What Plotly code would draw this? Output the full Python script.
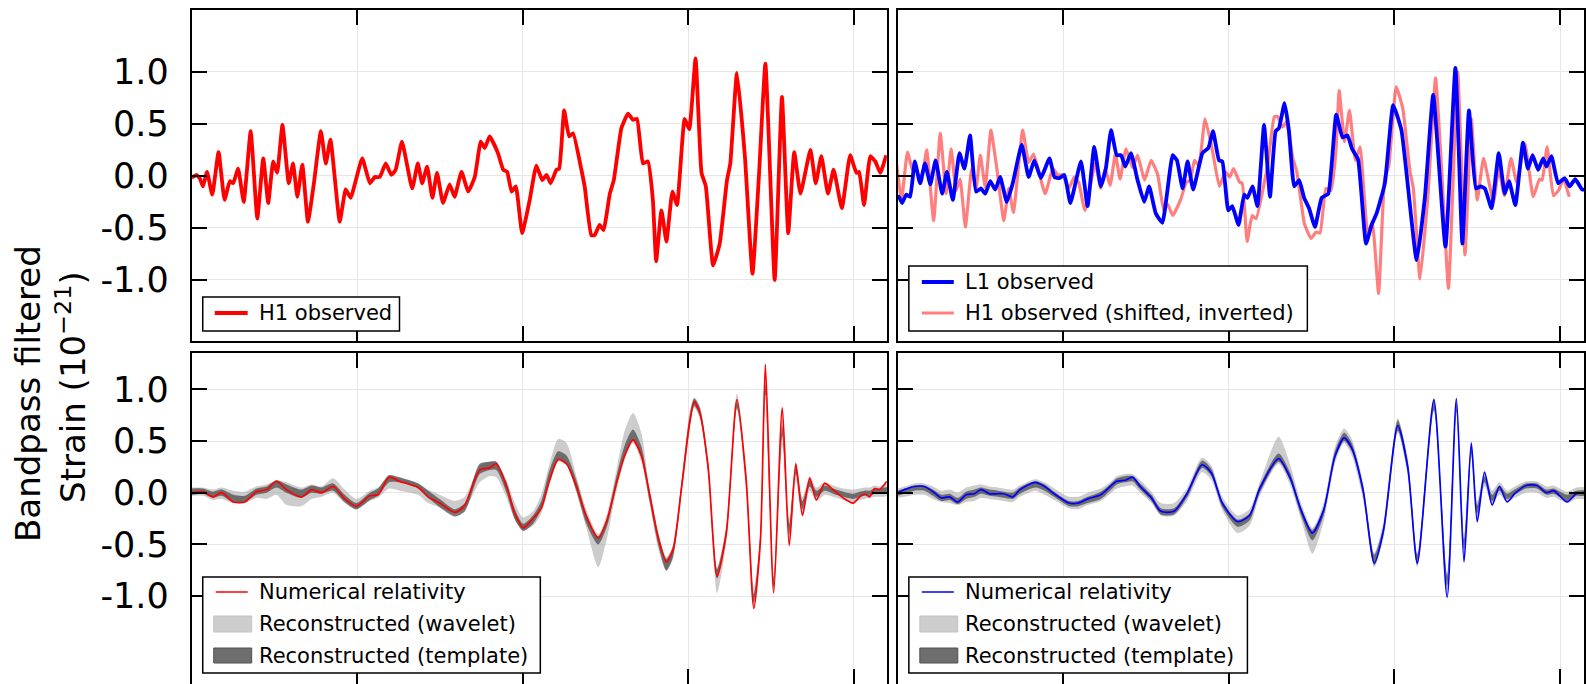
import plotly.graph_objects as go

W, H = 1586, 684

# ---------------- data: time (s) and strain (1e-21) ----------------
x_ticks = [0.30, 0.35, 0.40, 0.45]
y_ticks = [-1.0, -0.5, 0.0, 0.5, 1.0]
y_tick_text = ["-1.0", "-0.5", "0.0", "0.5", "1.0"]

h1_t = [0.2500,0.2504,0.2514,0.2524,0.2534,0.2546,0.2562,0.2581,0.2599,0.2615,
        0.2625,0.2640,0.2657,0.2678,0.2698,0.2716,0.2731,0.2746,0.2758,0.2774,
        0.2793,0.2806,0.2819,0.2834,0.2851,0.2869,0.2890,0.2905,0.2919,0.2947,
        0.2965,0.2980,0.3015,0.3038,0.3053,0.3068,0.3086,0.3103,0.3116,0.3135,
        0.3166,0.3183,0.3196,0.3211,0.3227,0.3241,0.3259,0.3279,0.3294,0.3315,
        0.3335,0.3355,0.3373,0.3385,0.3400,0.3425,0.3441,0.3453,0.3466,0.3479,
        0.3498,0.3521,0.3541,0.3559,0.3572,0.3584,0.3602,0.3610,0.3625,0.3640,
        0.3652,0.3677,0.3687,0.3707,0.3717,0.3732,0.3744,0.3763,0.3775,0.3798,
        0.3818,0.3833,0.3845,0.3863,0.3878,0.3893,0.3903,0.3919,0.3934,0.3952,
        0.3966,0.3989,0.4003,0.4022,0.4040,0.4053,0.4075,0.4095,0.4117,0.4127,
        0.4147,0.4171,0.4194,0.4214,0.4233,0.4261,0.4283,0.4302,0.4320,0.4339,
        0.4369,0.4385,0.4402,0.4422,0.4439,0.4464,0.4489,0.4508,0.4516,0.4531,
        0.4550,0.4565,0.4580,0.4598]
h1_v = [0.00,-0.01,0.01,-0.02,-0.10,0.04,-0.18,0.23,-0.23,-0.05,
        -0.07,0.07,-0.25,0.43,-0.41,0.17,-0.26,0.14,0.03,0.49,
        -0.07,0.12,-0.20,0.11,-0.44,-0.07,0.43,0.12,0.35,-0.44,
        -0.13,-0.21,0.17,-0.07,-0.01,-0.01,0.12,0.01,0.06,0.33,
        -0.12,0.12,-0.07,0.09,-0.21,0.03,-0.26,-0.08,-0.20,0.04,
        -0.15,-0.01,0.33,0.27,0.38,0.22,0.06,0.04,-0.15,-0.10,
        -0.55,-0.23,0.10,-0.04,0.01,-0.07,0.06,0.07,0.63,0.38,
        0.41,0.06,-0.10,-0.57,-0.57,-0.47,-0.52,-0.17,-0.04,0.46,
        0.60,0.54,0.55,0.12,0.14,-0.23,-0.82,-0.33,-0.63,-0.15,
        -0.28,0.55,0.45,1.13,0.03,-0.10,-0.86,-0.65,-0.04,0.12,
        0.99,0.19,-0.94,0.03,1.08,-1.00,0.76,-0.55,0.23,-0.17,
        0.25,-0.07,0.19,-0.17,0.06,-0.31,0.20,0.03,0.04,-0.28,
        0.19,0.14,0.03,0.20]

# H1 shifted (earlier by 7 ms) and inverted, as stated in the legend
H1_SHIFT = 0.007

l1_t = [0.2500,0.2503,0.2513,0.2525,0.2537,0.2551,0.2567,0.2582,0.2598,0.2614,
        0.2634,0.2648,0.2666,0.2686,0.2701,0.2718,0.2736,0.2751,0.2764,0.2779,
        0.2794,0.2809,0.2829,0.2847,0.2874,0.2895,0.2912,0.2932,0.2958,0.2973,
        0.2988,0.3003,0.3021,0.3053,0.3073,0.3093,0.3113,0.3128,0.3144,0.3161,
        0.3174,0.3187,0.3204,0.3224,0.3244,0.3259,0.3279,0.3299,0.3330,0.3343,
        0.3360,0.3375,0.3392,0.3420,0.3438,0.3452,0.3470,0.3480,0.3498,0.3510,
        0.3529,0.3546,0.3556,0.3571,0.3586,0.3606,0.3624,0.3641,0.3651,0.3668,
        0.3681,0.3697,0.3712,0.3727,0.3742,0.3760,0.3780,0.3800,0.3824,0.3843,
        0.3858,0.3872,0.3890,0.3914,0.3931,0.3946,0.3971,0.3996,0.4021,0.4067,
        0.4092,0.4117,0.4154,0.4184,0.4205,0.4225,0.4246,0.4260,0.4273,0.4293,
        0.4315,0.4333,0.4346,0.4365,0.4388,0.4403,0.4417,0.4434,0.4449,0.4459,
        0.4474,0.4494,0.4514,0.4529,0.4546,0.4567,0.4600]
l1_v = [-0.22,-0.20,-0.26,-0.18,-0.20,0.14,-0.07,0.12,-0.08,0.15,
        -0.17,0.04,-0.23,0.22,0.07,0.39,-0.15,-0.12,-0.17,-0.05,
        -0.13,-0.01,-0.25,-0.07,0.30,-0.01,0.15,-0.02,0.17,-0.01,
        -0.02,0.01,-0.26,0.14,-0.29,0.28,-0.10,0.07,0.44,0.20,
        0.20,0.09,0.22,-0.04,-0.25,-0.10,-0.36,-0.45,0.20,0.15,
        -0.12,0.14,-0.13,0.22,0.27,0.43,0.15,0.14,-0.33,-0.29,
        -0.47,-0.18,-0.21,-0.10,-0.29,0.49,-0.20,0.43,0.46,0.70,
        0.44,-0.10,-0.04,-0.21,-0.31,-0.49,-0.21,-0.17,0.59,0.37,
        0.39,0.26,0.16,-0.65,-0.47,-0.36,-0.07,0.68,0.44,-0.81,
        -0.20,0.78,-0.68,1.04,-0.65,0.63,-0.12,-0.10,-0.12,-0.31,
        0.22,-0.17,-0.05,-0.28,0.32,0.07,0.20,0.06,0.17,0.09,
        0.19,-0.07,-0.02,-0.10,-0.03,-0.13,-0.12]

# Numerical relativity (H1) and reconstructions
nr_h1_t = [0.2500,0.2534,0.2564,0.2590,0.2625,0.2660,0.2695,0.2726,0.2756,0.2786,
           0.2831,0.2862,0.2892,0.2927,0.2962,0.2997,0.3038,0.3063,0.3096,0.3128,
           0.3184,0.3214,0.3249,0.3295,0.3325,0.3370,0.3400,0.3420,
           0.3451,0.3476,0.3501,0.3531,0.3556,0.3581,0.3607,0.3632,0.3662,0.3692,
           0.3728,0.3753,0.3783,0.3808,0.3833,0.3858,0.3883,0.3909,0.3934,0.3954,
           0.3979,0.4004,0.4018,0.4035,0.4060,0.4087,0.4115,0.4147,0.4175,0.4198,
           0.4218,0.4233,0.4258,0.4284,0.4305,0.4325,0.4345,0.4367,0.4387,0.4412,
           0.4437,0.4468,0.4498,0.4518,0.4533,0.4548,0.4563,0.4578,0.4600]
nr_h1_v = [0.00,0.01,-0.04,0.00,-0.09,-0.09,0.01,0.03,0.11,0.03,
           -0.04,0.03,0.00,0.06,-0.06,-0.13,-0.03,-0.02,0.15,0.11,
           0.05,-0.04,-0.10,-0.19,-0.12,0.22,0.24,0.28,
           0.06,-0.20,-0.34,-0.25,-0.15,0.12,0.32,0.28,0.06,-0.23,
           -0.44,-0.28,0.09,0.36,0.51,0.36,-0.01,-0.43,-0.67,-0.55,
           0.03,0.67,0.88,0.77,0.25,-0.81,-0.39,0.90,0.12,-1.12,
           -0.46,1.24,-0.97,0.82,-0.51,0.28,-0.22,0.14,-0.07,0.09,
           0.03,-0.05,-0.10,-0.04,-0.01,-0.04,0.04,0.03,0.11]
h1_tmp_lo = [-0.02,-0.01,-0.05,-0.03,-0.09,-0.09,-0.02,0.00,0.05,0.00,
             -0.05,0.00,-0.01,0.02,-0.09,-0.16,-0.07,-0.03,0.10,0.10,
             0.04,-0.05,-0.14,-0.23,-0.18,0.18,0.22,0.22,
             0.00,-0.26,-0.37,-0.30,-0.16,0.12,0.32,0.28,0.02,-0.30,
             -0.50,-0.34,0.06,0.36,0.50,0.34,-0.08,-0.50,-0.75,-0.62,
             0.00,0.64,0.84,0.74,0.20,-0.83,-0.42,0.82,0.08,-1.06,
             -0.48,0.95,-0.92,0.55,-0.40,0.18,-0.16,0.06,-0.04,0.02,
             -0.01,-0.04,-0.06,-0.04,-0.03,-0.03,-0.01,-0.01,0.00]
h1_tmp_hi = [0.04,0.04,0.01,0.03,-0.02,-0.03,0.04,0.06,0.12,0.08,
             0.03,0.07,0.05,0.09,-0.02,-0.10,0.00,0.04,0.17,0.15,
             0.09,0.02,-0.06,-0.16,-0.10,0.28,0.30,0.30,
             0.10,-0.16,-0.30,-0.22,-0.08,0.22,0.40,0.36,0.12,-0.20,
             -0.42,-0.26,0.16,0.46,0.61,0.45,0.02,-0.40,-0.64,-0.52,
             0.08,0.74,0.91,0.82,0.28,-0.74,-0.34,0.89,0.16,-0.98,
             -0.40,1.05,-0.82,0.65,-0.30,0.26,-0.08,0.12,0.02,0.07,
             0.04,0.01,-0.01,0.01,0.02,0.02,0.04,0.04,0.05]
h1_wav_lo = [-0.03,-0.03,-0.07,-0.06,-0.10,-0.10,-0.05,-0.06,-0.02,-0.12,
             -0.13,-0.06,-0.04,0.00,-0.10,-0.16,-0.08,-0.05,0.04,0.02,
             -0.02,-0.10,-0.14,-0.20,-0.16,0.10,0.16,0.15,
             -0.05,-0.26,-0.36,-0.32,-0.20,0.08,0.30,0.26,0.00,-0.34,
             -0.72,-0.46,0.02,0.32,0.48,0.30,-0.10,-0.54,-0.76,-0.64,
             -0.04,0.60,0.82,0.72,0.16,-0.97,-0.48,0.80,0.02,-1.10,
             -0.52,0.90,-0.96,0.45,-0.45,0.12,-0.20,0.02,-0.08,-0.02,
             -0.04,-0.07,-0.09,-0.07,-0.06,-0.05,-0.04,-0.04,-0.03]
h1_wav_hi = [0.05,0.05,0.03,0.05,0.02,0.01,0.06,0.08,0.12,0.10,
             0.05,0.08,0.06,0.14,0.03,-0.06,0.02,0.05,0.16,0.14,
             0.09,0.03,-0.02,-0.08,-0.04,0.26,0.30,0.30,
             0.12,-0.10,-0.24,-0.18,-0.02,0.28,0.52,0.48,0.16,-0.16,
             -0.40,-0.22,0.22,0.60,0.77,0.58,0.04,-0.38,-0.62,-0.50,
             0.10,0.78,0.92,0.84,0.30,-0.72,-0.30,0.96,0.20,-0.92,
             -0.36,1.08,-0.78,0.72,-0.25,0.30,-0.04,0.16,0.05,0.10,
             0.07,0.04,0.03,0.04,0.05,0.05,0.07,0.06,0.08]

# Numerical relativity (L1) and reconstructions
nr_l1_t = [0.2500,0.2520,0.2550,0.2580,0.2606,0.2631,0.2656,0.2681,0.2706,0.2731,
           0.2751,0.2777,0.2802,0.2819,0.2847,0.2869,0.2915,0.2943,0.2972,0.3017,
           0.3045,0.3073,0.3113,0.3141,0.3161,0.3186,0.3209,0.3232,0.3266,0.3294,
           0.3334,0.3373,0.3419,0.3447,0.3480,0.3526,0.3562,0.3593,0.3650,0.3684,
           0.3718,0.3752,0.3786,0.3820,0.3848,0.3871,0.3905,0.3939,0.3967,0.4010,
           0.4040,0.4069,0.4119,0.4159,0.4187,0.4210,0.4232,0.4250,0.4272,0.4295,
           0.4317,0.4340,0.4363,0.4397,0.4430,0.4459,0.4481,0.4521,0.4549,0.4575]
nr_l1_v = [0.00,0.03,0.06,0.06,0.01,-0.05,-0.04,-0.09,-0.02,-0.01,
           0.03,-0.01,-0.01,-0.01,-0.04,0.03,0.10,0.06,-0.01,-0.10,
           -0.10,-0.06,-0.02,0.06,0.11,0.12,0.15,0.06,-0.05,-0.18,
           -0.18,-0.01,0.27,0.19,-0.10,-0.28,-0.22,0.04,0.33,0.15,
           -0.17,-0.39,-0.17,0.35,0.53,0.43,0.03,-0.68,-0.36,0.65,
           0.25,-0.68,0.90,-1.01,0.91,-0.67,0.48,-0.28,0.20,-0.12,
           0.06,-0.09,-0.01,0.07,0.07,0.00,0.02,-0.09,-0.01,0.00]
l1_tmp_lo = [-0.03,-0.01,0.02,0.02,-0.03,-0.08,-0.07,-0.11,-0.06,-0.04,
             -0.01,-0.03,-0.04,-0.05,-0.06,-0.01,0.05,0.02,-0.04,-0.13,
             -0.13,-0.10,-0.06,0.02,0.08,0.10,0.11,0.03,-0.08,-0.21,
             -0.21,-0.05,0.24,0.16,-0.14,-0.33,-0.27,0.00,0.30,0.12,
             -0.22,-0.46,-0.22,0.32,0.50,0.40,-0.02,-0.70,-0.40,0.60,
             0.20,-0.70,0.80,-0.90,0.78,-0.55,0.38,-0.20,0.10,-0.08,
             0.02,-0.06,-0.02,0.04,0.04,-0.02,-0.01,-0.08,-0.03,-0.03]
l1_tmp_hi = [0.02,0.04,0.07,0.07,0.03,-0.02,-0.01,-0.05,0.01,0.03,
             0.05,0.03,0.02,0.01,0.00,0.05,0.11,0.08,0.01,-0.08,
             -0.08,-0.04,0.01,0.08,0.14,0.16,0.16,0.09,-0.02,-0.15,
             -0.15,0.01,0.31,0.23,-0.08,-0.26,-0.20,0.07,0.38,0.20,
             -0.14,-0.36,-0.14,0.40,0.58,0.48,0.06,-0.60,-0.32,0.70,
             0.30,-0.60,0.90,-0.80,0.88,-0.45,0.46,-0.12,0.16,-0.02,
             0.07,-0.01,0.03,0.09,0.09,0.03,0.04,-0.02,0.02,0.02]
l1_wav_lo = [-0.05,-0.04,-0.02,-0.02,-0.06,-0.09,-0.10,-0.12,-0.09,-0.08,
             -0.05,-0.06,-0.07,-0.08,-0.09,-0.04,0.02,-0.02,-0.07,-0.15,
             -0.16,-0.12,-0.08,-0.01,0.04,0.06,0.07,0.00,-0.10,-0.22,
             -0.22,-0.08,0.20,0.12,-0.17,-0.39,-0.32,-0.03,0.28,0.08,
             -0.26,-0.59,-0.28,0.28,0.48,0.36,-0.06,-0.72,-0.44,0.58,
             0.16,-0.72,0.78,-0.94,0.75,-0.60,0.34,-0.24,0.06,-0.11,
             -0.02,-0.09,-0.05,0.00,0.00,-0.05,-0.04,-0.10,-0.06,-0.06]
l1_wav_hi = [0.04,0.06,0.09,0.09,0.06,0.02,0.03,0.00,0.05,0.07,
             0.08,0.06,0.05,0.04,0.03,0.07,0.13,0.10,0.04,-0.04,
             -0.04,0.00,0.04,0.10,0.16,0.18,0.18,0.12,0.01,-0.10,
             -0.10,0.04,0.34,0.26,-0.04,-0.22,-0.16,0.10,0.54,0.28,
             -0.10,-0.34,-0.10,0.44,0.62,0.52,0.10,-0.58,-0.28,0.72,
             0.34,-0.58,0.92,-0.78,0.90,-0.40,0.50,-0.08,0.20,0.02,
             0.10,0.02,0.06,0.11,0.11,0.06,0.07,0.01,0.05,0.05]

legend_top_left = ["H1 observed"]
legend_top_right = ["L1 observed", "H1 observed (shifted, inverted)"]
legend_bottom = ["Numerical relativity", "Reconstructed (wavelet)", "Reconstructed (template)"]

# ---------------- styling ----------------
FONT = "DejaVu Sans"
RED = "#ff0000"
BLUE = "#0000ff"
SALMON = "rgba(255,0,0,0.5)"
WAV = "rgba(170,170,170,0.6)"
TMP = "rgba(70,70,70,0.72)"


def px(x):
    return x / W


def py(y):
    return 1 - y / H


fig = go.Figure()


def line(t, v, color, width, xa, ya, smoothing=0.4):
    fig.add_trace(go.Scatter(x=t, y=v, mode="lines", xaxis=xa, yaxis=ya,
                             line=dict(color=color, width=width, shape="spline", smoothing=smoothing),
                             showlegend=False, hoverinfo="skip"))


def band(t, lo, hi, color, xa, ya):
    fig.add_trace(go.Scatter(x=list(t) + list(t[::-1]), y=list(hi) + list(lo[::-1]),
                             mode="lines", fill="toself", fillcolor=color, xaxis=xa, yaxis=ya,
                             line=dict(width=0, color=color, shape="spline", smoothing=0.7),
                             showlegend=False, hoverinfo="skip"))


# top-left: H1
line(h1_t, h1_v, RED, 3.8, "x", "y")
# top-right: H1 shifted/inverted and L1
line([t - H1_SHIFT for t in h1_t], [-v for v in h1_v], SALMON, 3.2, "x2", "y2")
line(l1_t, l1_v, BLUE, 3.8, "x2", "y2")
# bottom-left
band(nr_h1_t, h1_wav_lo, h1_wav_hi, WAV, "x3", "y3")
band(nr_h1_t, h1_tmp_lo, h1_tmp_hi, TMP, "x3", "y3")
line(nr_h1_t, nr_h1_v, RED, 1.7, "x3", "y3", 0.7)
# bottom-right
band(nr_l1_t, l1_wav_lo, l1_wav_hi, WAV, "x4", "y4")
band(nr_l1_t, l1_tmp_lo, l1_tmp_hi, TMP, "x4", "y4")
line(nr_l1_t, nr_l1_v, BLUE, 1.7, "x4", "y4", 0.7)

ax = dict(showline=True, linecolor="black", linewidth=2, mirror="ticks", ticks="inside",
          ticklen=15, tickwidth=1.5, tickcolor="black", showgrid=True, gridcolor="#e6e6e6",
          gridwidth=1, zeroline=False)
xcommon = dict(tickmode="array", tickvals=x_ticks, showticklabels=False, **ax)
ycommon = dict(tickmode="array", tickvals=y_ticks, ticktext=y_tick_text, **ax)

left_dom = [px(192), px(888)]
right_dom = [px(899), 1.0]
top_dom = [py(341), py(10)]
bot_dom = [0.0, py(353)]
left_range = [0.25, 0.46]
right_range = [0.25, 0.25 + 687 / 3315]
top_range = [-1.587, 1.596]
bot_range = [-1.85, 1.351]

ytick_font = dict(family=FONT, size=35, color="black")

fig.update_layout(
    width=W, height=H, margin=dict(l=0, r=0, t=0, b=0),
    paper_bgcolor="white", plot_bgcolor="white", showlegend=False,
    xaxis=dict(domain=left_dom, range=left_range, anchor="y", **xcommon),
    xaxis2=dict(domain=right_dom, range=right_range, anchor="y2", **xcommon),
    xaxis3=dict(domain=left_dom, range=left_range, anchor="y3", **xcommon),
    xaxis4=dict(domain=right_dom, range=right_range, anchor="y4", **xcommon),
    yaxis=dict(domain=top_dom, range=top_range, anchor="x", tickfont=ytick_font,
               ticklabelstandoff=14, **ycommon),
    yaxis2=dict(domain=top_dom, range=top_range, anchor="x2", showticklabels=False, **ycommon),
    yaxis3=dict(domain=bot_dom, range=bot_range, anchor="x3", tickfont=ytick_font,
                ticklabelstandoff=14, **ycommon),
    yaxis4=dict(domain=bot_dom, range=bot_range, anchor="x4", showticklabels=False, **ycommon),
)

shapes = []
annotations = []


def legend_box(x0, y0, x1, y1):
    shapes.append(dict(type="rect", xref="paper", yref="paper", x0=px(x0), x1=px(x1),
                       y0=py(y1), y1=py(y0), fillcolor="white",
                       line=dict(color="black", width=1.5), layer="above"))


def legend_line(x0, x1, y, color, width):
    shapes.append(dict(type="line", xref="paper", yref="paper", x0=px(x0), x1=px(x1),
                       y0=py(y), y1=py(y), line=dict(color=color, width=width), layer="above"))


def legend_patch(x0, x1, y0, y1, color, edge):
    shapes.append(dict(type="rect", xref="paper", yref="paper", x0=px(x0), x1=px(x1),
                       y0=py(y1), y1=py(y0), fillcolor=color,
                       line=dict(color=edge, width=1), layer="above"))


def legend_text(x, y, text):
    annotations.append(dict(xref="paper", yref="paper", x=px(x), y=py(y), text=text,
                            showarrow=False, xanchor="left", yanchor="middle",
                            font=dict(family=FONT, size=21, color="black")))


# top-left legend
legend_box(203, 297, 400, 331)
legend_line(215, 248, 313, RED, 3.8)
legend_text(257, 313, legend_top_left[0])
# top-right legend
legend_box(910, 266, 1309, 331)
legend_line(923, 955, 282, BLUE, 3.8)
legend_line(923, 955, 313, SALMON, 3.2)
legend_text(964, 282, legend_top_right[0])
legend_text(964, 313, legend_top_right[1])
# bottom legends
for (bx0, bx1, sx0, sx1, tx, col) in [(203, 541, 214, 252, 257, RED), (910, 1249, 921, 959, 964, BLUE)]:
    legend_box(bx0, 577, bx1, 673)
    legend_line(sx0 + 2, sx1 - 4, 592, col, 1.7)
    legend_patch(sx0, sx1, 616, 632, "#cdcdcd", "#c4c4c4")
    legend_patch(sx0, sx1, 648, 663, "#6e6e6e", "#505050")
    legend_text(tx, 592, legend_bottom[0])
    legend_text(tx, 624, legend_bottom[1])
    legend_text(tx, 656, legend_bottom[2])

# y-axis title (two lines)
annotations.append(dict(xref="paper", yref="paper", x=px(28), y=py(393), text="Bandpass filtered",
                        showarrow=False, textangle=-90, xanchor="center", yanchor="middle",
                        font=dict(family=FONT, size=34, color="black")))
annotations.append(dict(xref="paper", yref="paper", x=px(71), y=py(387),
                        text="Strain (10<sup>\u221221</sup>)",
                        showarrow=False, textangle=-90, xanchor="center", yanchor="middle",
                        font=dict(family=FONT, size=34, color="black")))

fig.update_layout(shapes=shapes, annotations=annotations)

fig.write_html(
    "out.html",
    config={"displayModeBar": False},
    post_script="document.body.style.margin='0px';document.body.style.overflow='hidden';"
                "document.documentElement.style.overflow='hidden';",
)
